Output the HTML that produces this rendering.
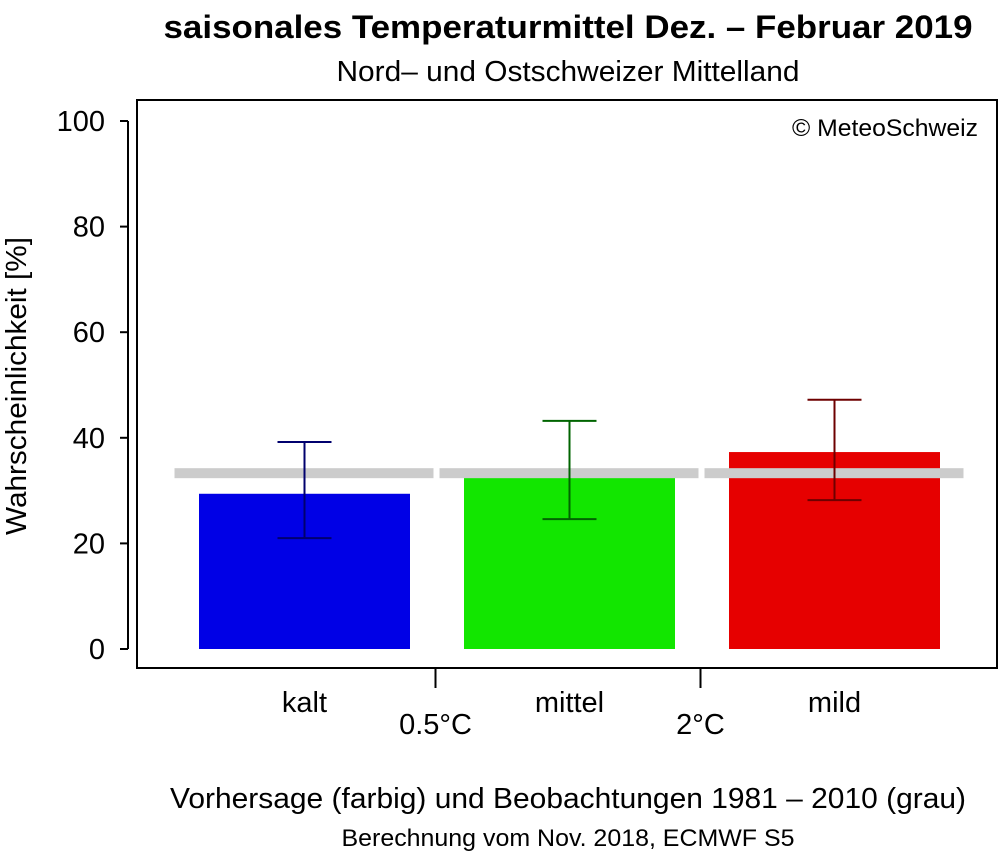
<!DOCTYPE html>
<html><head><meta charset="utf-8"><style>body{margin:0;background:#fff}svg{display:block;font-family:"Liberation Sans",sans-serif}</style></head>
<body>
<svg id="c" width="1001" height="854">
<text x="568" y="38" text-anchor="middle" font-size="32" font-weight="bold" textLength="809" lengthAdjust="spacingAndGlyphs">saisonales Temperaturmittel Dez. – Februar 2019</text>
<text x="568" y="81" text-anchor="middle" font-size="29" textLength="463" lengthAdjust="spacingAndGlyphs">Nord– und Ostschweizer Mittelland</text>
<rect x="137" y="100" width="860" height="568" fill="none" stroke="#000" stroke-width="2"/>
<text x="978" y="136" text-anchor="end" font-size="24" textLength="186" lengthAdjust="spacingAndGlyphs">© MeteoSchweiz</text>
<text transform="translate(26,386) rotate(-90)" text-anchor="middle" font-size="29" textLength="298" lengthAdjust="spacingAndGlyphs">Wahrscheinlichkeit [%]</text>
<text x="568" y="808" text-anchor="middle" font-size="29" textLength="796" lengthAdjust="spacingAndGlyphs">Vorhersage (farbig) und Beobachtungen 1981 – 2010 (grau)</text>
<text x="568" y="846" text-anchor="middle" font-size="24" textLength="453" lengthAdjust="spacingAndGlyphs">Berechnung vom Nov. 2018, ECMWF S5</text>
<g id="g"></g>
</svg>
<script>
const categories=["kalt","mittel","mild"];
const forecast=[29.4,32.4,37.3];
const errLow=[21.0,24.6,28.2];
const errHigh=[39.2,43.2,47.2];
const climatology=[33.3,33.3,33.3];
const yTicks=[0,20,40,60,80,100];
const thresholds=["0.5°C","2°C"];
const colors=["#0000e6","#12e600","#e60000"];
const errColors=["#00006e","#006400","#6e0000"];
const NS="http://www.w3.org/2000/svg";
const g=document.getElementById('g');
const y=v=>649-v*5.28;
const cx=i=>304.5+i*265;
function mk(t,a){const e=document.createElementNS(NS,t);for(const k in a)e.setAttribute(k,a[k]);g.appendChild(e);return e;}
let ax=mk('line',{x1:128,x2:128,y1:y(0),y2:y(100),stroke:'#000','stroke-width':2});


yTicks.forEach(v=>{
 let l=mk('line',{x1:120,x2:128,y1:y(v),y2:y(v),stroke:'#000','stroke-width':2});
 
 
 let t=mk('text',{x:105,y:y(v)+10,'text-anchor':'end','font-size':29});t.textContent=v;
 
 
});
categories.forEach((c,i)=>{
 let b=mk('rect',{x:cx(i)-105.5,y:y(forecast[i]),width:211,height:y(0)-y(forecast[i]),fill:colors[i]});
 
 
 let gl=mk('rect',{x:cx(i)-130,y:y(climatology[i])-5,width:259,height:10,fill:'#cccccc'});
 
 
 const ec=errColors[i];
 [[cx(i),cx(i),y(errLow[i]),y(errHigh[i])],[cx(i)-27,cx(i)+27,y(errHigh[i]),y(errHigh[i])],[cx(i)-27,cx(i)+27,y(errLow[i]),y(errLow[i])]].forEach(p=>{
  let l=mk('line',{x1:p[0],x2:p[1],y1:p[2],y2:p[3],stroke:ec,'stroke-width':2});
  
  
 });
 let t=mk('text',{x:cx(i),y:712,'text-anchor':'middle','font-size':29});t.textContent=c;
 
 
});
thresholds.forEach((th,i)=>{
 const x=(cx(i)+cx(i+1))/2-1.5;
 let l=mk('line',{x1:x,x2:x,y1:668,y2:688,stroke:'#000','stroke-width':2});
 
 
 let t=mk('text',{x:x,y:734,'text-anchor':'middle','font-size':29});t.textContent=th;
 
 
});
</script>
</body></html>
